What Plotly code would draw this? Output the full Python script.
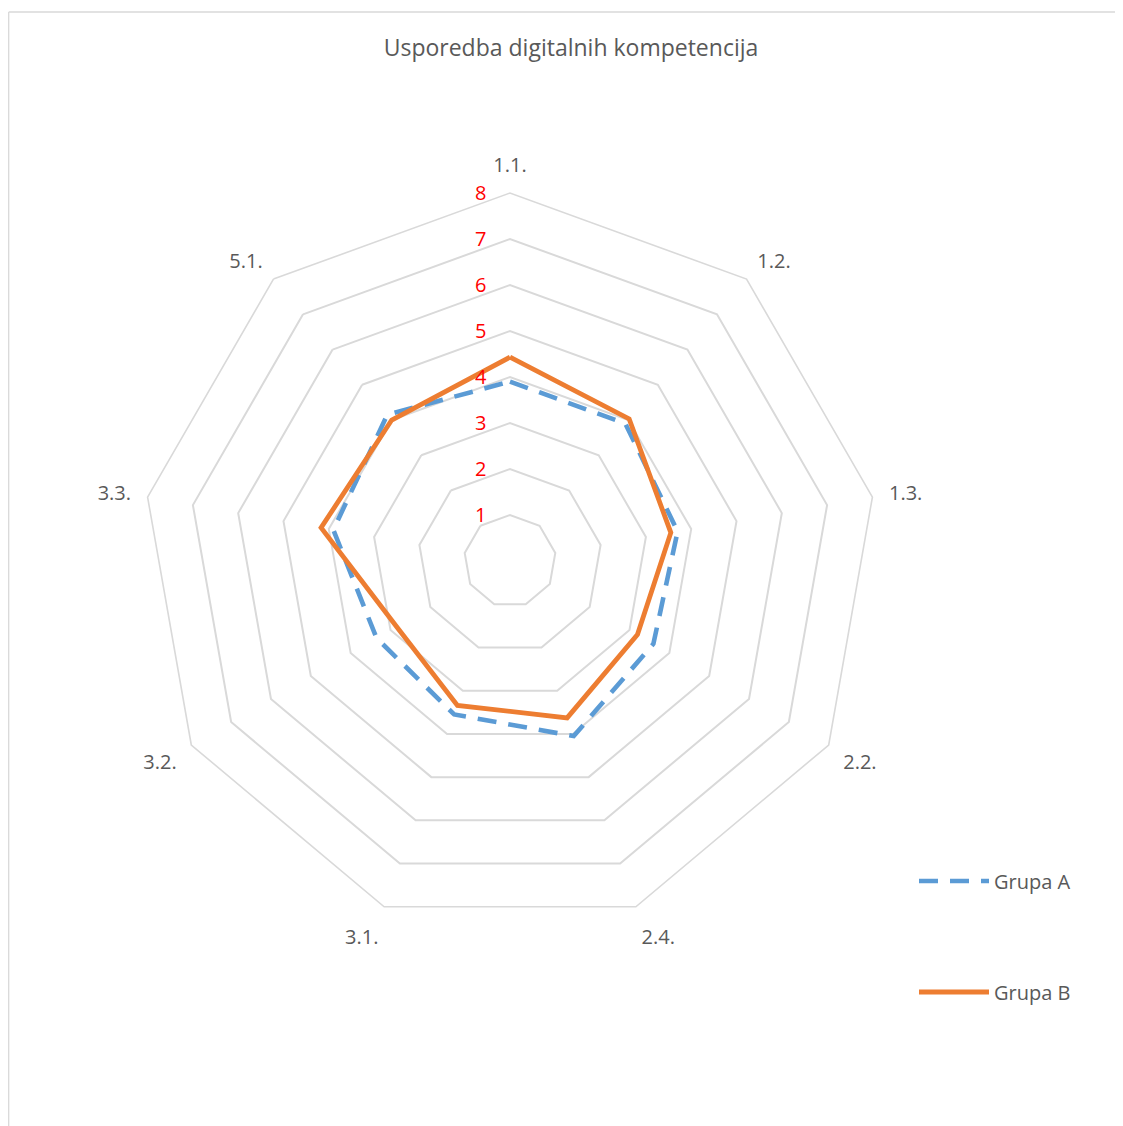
import plotly.graph_objects as go

categories = ["1.1.", "1.2.", "1.3.", "2.2.", "2.4.", "3.1.", "3.2.", "3.3.", "5.1."]
grupa_a = [3.9, 3.9, 3.7, 3.6, 4.05, 3.55, 3.35, 3.9, 4.15]
grupa_b = [4.43, 4.03, 3.55, 3.2, 3.63, 3.34, 2.85, 4.17, 4.0]
radial_ticks = [1, 2, 3, 4, 5, 6, 7, 8]

W, H = 1123, 1126
OFF = 8  # page body margin
FONT = "Open Sans"
TXT = "#595959"
GRID = "#D9D9D9"

fig = go.Figure()
fig.add_trace(go.Scatterpolar(
    r=grupa_a + grupa_a[:1], theta=categories + categories[:1],
    mode="lines", name="Grupa A",
    line=dict(color="#5B9BD5", width=4.6, dash="19px,12px"),
    legend="legend",
))
fig.add_trace(go.Scatterpolar(
    r=grupa_b + grupa_b[:1], theta=categories + categories[:1],
    mode="lines", name="Grupa B",
    line=dict(color="#ED7D31", width=4.8),
    legend="legend2",
))

cx, cy, R = 510 - OFF, 561 - OFF, 368
fig.update_layout(
    width=W, height=H,
    margin=dict(l=0, r=0, t=0, b=0),
    showlegend=True,
    paper_bgcolor="white", plot_bgcolor="white",
    font=dict(family=FONT, color=TXT),
    title=dict(text="Usporedba digitalnih kompetencija", x=(571 - OFF) / W, xanchor="center",
               y=1 - (48 - OFF) / H, yanchor="middle",
               font=dict(family=FONT, size=23, color=TXT)),
    polar=dict(
        domain=dict(x=[(cx - R) / W, (cx + R) / W], y=[1 - (cy + R) / H, 1 - (cy - R) / H]),
        gridshape="linear",
        bgcolor="white",
        angularaxis=dict(direction="clockwise", rotation=90, showgrid=False,
                         showline=True, linecolor=GRID, linewidth=1.6,
                         ticks="outside", ticklen=12, tickcolor="rgba(0,0,0,0)",
                         tickfont=dict(size=20, color=TXT, family=FONT)),
        radialaxis=dict(range=[0, 8], tickvals=radial_ticks, showline=False,
                        gridcolor=GRID, gridwidth=1.6, angle=90, tickangle=90,
                        side="counterclockwise",
                        ticks="outside", ticklen=16, tickcolor="rgba(0,0,0,0)",
                        tickfont=dict(size=20, color="#FF0000", family=FONT)),
    ),
    legend=dict(x=(914 - OFF) / W, y=1 - (881 - OFF) / H, xanchor="left", yanchor="middle",
                itemwidth=70,
                font=dict(size=20, color=TXT, family=FONT), bgcolor="rgba(0,0,0,0)"),
    legend2=dict(x=(914 - OFF) / W, y=1 - (992 - OFF) / H, xanchor="left", yanchor="middle",
                 itemwidth=70,
                 font=dict(size=20, color=TXT, family=FONT), bgcolor="rgba(0,0,0,0)"),
    shapes=[
        dict(type="line", xref="paper", yref="paper", x0=0.7 / W, x1=1.0,
             y0=1 - (12 - OFF) / H, y1=1 - (12 - OFF) / H,
             line=dict(color=GRID, width=1.3)),
        dict(type="line", xref="paper", yref="paper", x0=0.7 / W, x1=0.7 / W,
             y0=0, y1=1 - (12 - OFF) / H,
             line=dict(color=GRID, width=1.3)),
    ],
)

fig.write_html("out.html")
